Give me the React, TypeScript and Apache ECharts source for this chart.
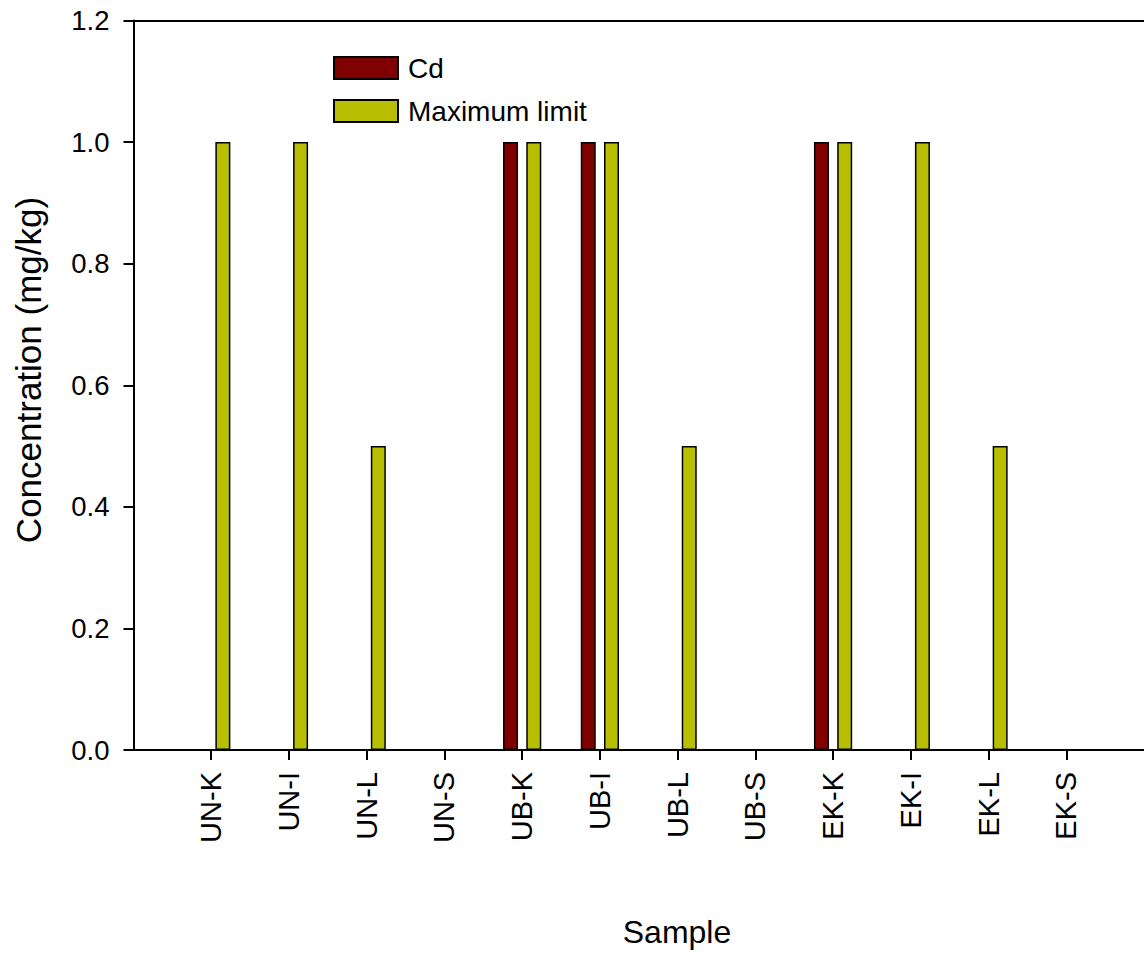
import React, { useEffect, useRef } from "react";
import * as echarts from "echarts";

const categories = ["UN-K", "UN-I", "UN-L", "UN-S", "UB-K", "UB-I", "UB-L", "UB-S", "EK-K", "EK-I", "EK-L", "EK-S"];
const cdValues = [0, 0, 0, 0, 1.0, 1.0, 0, 0, 1.0, 0, 0, 0];
const maxLimitValues = [1.0, 1.0, 0.5, 0, 1.0, 1.0, 0.5, 0, 1.0, 1.0, 0.5, 0];
const yTicks = [0, 0.2, 0.4, 0.6, 0.8, 1.0, 1.2];

const FONT = "'Liberation Sans', Arial, sans-serif";

export default function App() {
  const ref = useRef<HTMLDivElement>(null);
  useEffect(() => {
    document.body.style.margin = "0";
    if (!ref.current) return;
    const chart = echarts.init(ref.current, undefined, { renderer: "svg" });
    const axisData = ["", ...categories, ""];
    const pad = (arr: number[]) => [null, ...arr, null];
    chart.setOption({
      animation: false,
      backgroundColor: "#ffffff",
      textStyle: { fontFamily: FONT },
      grid: { left: 133.5, right: -4.5, top: 20.5, bottom: 203, containLabel: false },
      legend: {
        orient: "vertical",
        left: 328,
        top: 49,
        itemWidth: 64,
        itemHeight: 22,
        itemGap: 15,
        icon: "rect",
        textStyle: { fontFamily: FONT, fontSize: 28, color: "#000", padding: [0, 0, 0, 5] },
        data: ["Cd", "Maximum limit"],
      },
      xAxis: [
        {
          type: "category",
          data: axisData,
          boundaryGap: false,
          axisLine: { show: true, lineStyle: { color: "#000", width: 2 } },
          axisTick: {
            show: true,
            length: 10,
            inside: false,
            interval: (i: number) => i > 0 && i < axisData.length - 1,
            lineStyle: { color: "#000", width: 2 },
          },
          axisLabel: {
            rotate: 90,
            margin: 22,
            fontSize: 29,
            fontFamily: FONT,
            color: "#000",
            interval: 0,
          },
          splitLine: { show: false },
        },
        {
          type: "category",
          position: "top",
          data: axisData,
          boundaryGap: false,
          axisLine: { show: true, lineStyle: { color: "#000", width: 2 } },
          axisTick: { show: false },
          axisLabel: { show: false },
          splitLine: { show: false },
        },
      ],
      yAxis: {
        type: "value",
        min: yTicks[0],
        max: yTicks[yTicks.length - 1],
        interval: 0.2,
        axisLine: { show: true, lineStyle: { color: "#000", width: 2 } },
        axisTick: { show: true, length: 10, inside: false, lineStyle: { color: "#000", width: 2 } },
        axisLabel: {
          margin: 24,
          fontSize: 27.5,
          fontFamily: FONT,
          color: "#000",
          formatter: (v: number) => v.toFixed(1),
        },
        splitLine: { show: false },
      },
      series: [
        {
          name: "Cd",
          type: "bar",
          data: pad(cdValues),
          barWidth: 15,
          barGap: "55%",
          itemStyle: { color: "#800000", borderColor: "#000", borderWidth: 1.5 },
        },
        {
          name: "Maximum limit",
          type: "bar",
          data: pad(maxLimitValues),
          barWidth: 15,
          barGap: "55%",
          itemStyle: { color: "#B8BF00", borderColor: "#000", borderWidth: 1.5 },
        },
      ],
      graphic: [
        {
          type: "text",
          x: 28,
          y: 370,
          rotation: Math.PI / 2,
          style: {
            text: "Concentration (mg/kg)",
            fontSize: 35,
            fontFamily: FONT,
            fill: "#000",
            align: "center",
            verticalAlign: "middle",
          },
        },
        {
          type: "text",
          x: 677,
          y: 932,
          style: {
            text: "Sample",
            fontSize: 32,
            fontFamily: FONT,
            fill: "#000",
            align: "center",
            verticalAlign: "middle",
          },
        },
      ],
    });
    return () => chart.dispose();
  }, []);
  return <div ref={ref} style={{ width: 1144, height: 953 }} />;
}
